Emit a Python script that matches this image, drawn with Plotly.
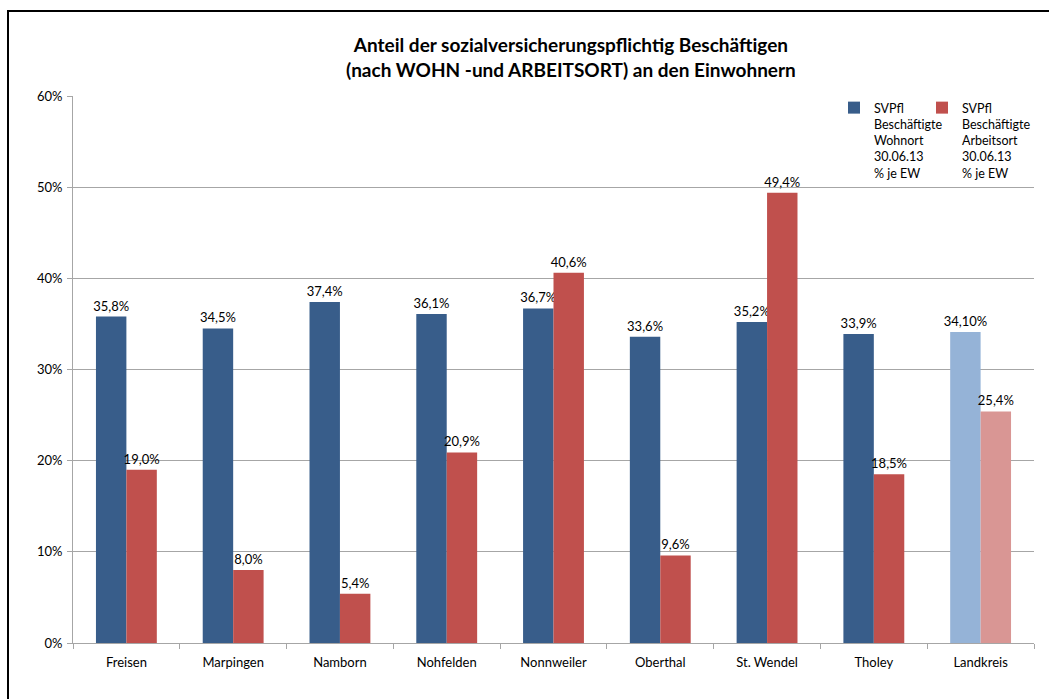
import plotly.graph_objects as go

categories = ["Freisen", "Marpingen", "Namborn", "Nohfelden", "Nonnweiler",
              "Oberthal", "St. Wendel", "Tholey", "Landkreis"]
wohnort = [35.8, 34.5, 37.4, 36.1, 36.7, 33.6, 35.2, 33.9, 34.10]
arbeitsort = [19.0, 8.0, 5.4, 20.9, 40.6, 9.6, 49.4, 18.5, 25.4]
wohnort_labels = ["35,8%", "34,5%", "37,4%", "36,1%", "36,7%", "33,6%", "35,2%", "33,9%", "34,10%"]
arbeitsort_labels = ["19,0%", "8,0%", "5,4%", "20,9%", "40,6%", "9,6%", "49,4%", "18,5%", "25,4%"]
y_ticks = [0, 10, 20, 30, 40, 50, 60]
y_tick_labels = ["0%", "10%", "20%", "30%", "40%", "50%", "60%"]

FONT = "Lato"
W, H = 1049, 699
ML, MR, MT, MB = 73, 15, 96, 56
PW, PH = W - ML - MR, H - MT - MB

blue, blue_l = "#385D8A", "#95B3D7"
red, red_l = "#C0504D", "#D99694"
n = len(categories)

fig = go.Figure()
fig.add_trace(go.Bar(
    x=categories, y=wohnort, name="SVPfl<br>Beschäftigte<br>Wohnort<br>30.06.13<br>% je EW",
    marker=dict(color=[blue] * (n - 1) + [blue_l], line=dict(width=0)),
    text=wohnort_labels, textposition="outside", constraintext="none", cliponaxis=False,
    textfont=dict(family=FONT, size=13, color="#000000"), legend="legend",
))
fig.add_trace(go.Bar(
    x=categories, y=arbeitsort, name="SVPfl<br>Beschäftigte<br>Arbeitsort<br>30.06.13<br>% je EW",
    marker=dict(color=[red] * (n - 1) + [red_l], line=dict(width=0)),
    text=arbeitsort_labels, textposition="outside", constraintext="none", cliponaxis=False,
    textfont=dict(family=FONT, size=13, color="#000000"), legend="legend2",
))

def px_x(px):
    return (px - ML) / PW

def px_y(py):
    return (H - MB - py) / PH

legend_common = dict(
    orientation="v", xanchor="left", yanchor="top", valign="top",
    bgcolor="rgba(0,0,0,0)", font=dict(family=FONT, size=12.5, color="#000000"),
    itemwidth=30,
)

fig.update_layout(
    width=W, height=H,
    margin=dict(l=ML, r=MR, t=MT, b=MB, pad=0),
    paper_bgcolor="white", plot_bgcolor="white",
    barmode="group", bargap=0.43, bargroupgap=0,
    font=dict(family=FONT, size=13, color="#000000"),
    showlegend=True,
    legend=dict(x=px_x(834), y=px_y(93), **legend_common),
    legend2=dict(x=px_x(922), y=px_y(93), **legend_common),
    annotations=[dict(
        text="<b>Anteil der sozialversicherungspflichtig Beschäftigen<br>(nach WOHN -und ARBEITSORT) an den Einwohnern</b>",
        x=px_x(571), y=px_y(57), xref="paper", yref="paper", xanchor="center", yanchor="middle",
        showarrow=False, font=dict(family=FONT, size=19, color="#000000"), align="center",
    )],
    shapes=[dict(
        type="rect", xref="paper", yref="paper",
        x0=px_x(8), x1=px_x(1070), y0=px_y(720), y1=px_y(11),
        line=dict(color="#000000", width=2), fillcolor="rgba(0,0,0,0)", layer="above",
    )],
)
fig.update_xaxes(
    showline=True, linecolor="#A6A6A6", linewidth=1,
    ticks="outside", tickson="boundaries", ticklen=5, tickcolor="#A6A6A6",
    showgrid=False, tickfont=dict(family=FONT, size=13), ticklabelstandoff=7,
)
fig.update_yaxes(
    range=[0, 60], tickvals=y_ticks, ticktext=y_tick_labels,
    showline=True, linecolor="#A6A6A6", linewidth=1,
    ticks="outside", ticklen=5, tickcolor="#A6A6A6",
    showgrid=True, gridcolor="#A6A6A6", gridwidth=1, zeroline=False,
    tickfont=dict(family=FONT, size=13), ticklabelstandoff=2,
)

fig.write_html("out.html")
